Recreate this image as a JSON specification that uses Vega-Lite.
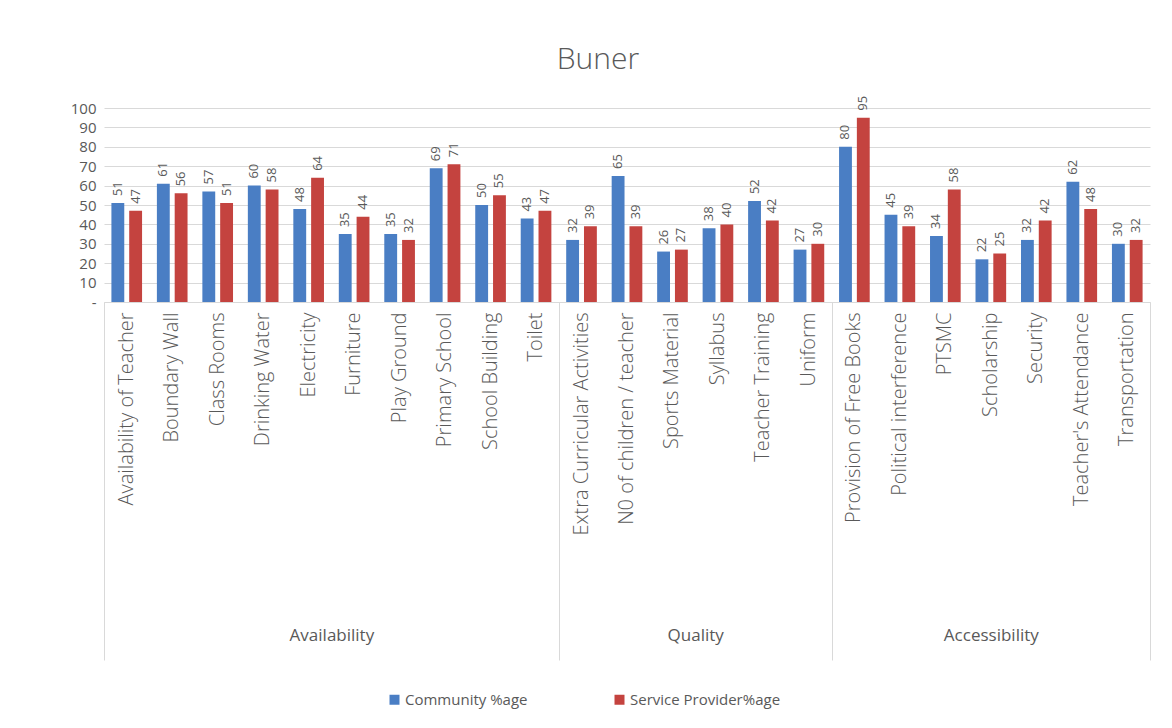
{
  "$schema": "https://vega.github.io/schema/vega-lite/v6.json",
  "autosize": {"type": "none"},
  "width": 1046,
  "height": 194,
  "padding": {"left": 104, "top": 108, "right": 22, "bottom": 426},
  "background": "white",
  "title": {
    "text": "Buner",
    "anchor": "middle",
    "dx": -29,
    "offset": 21,
    "font": "Open Sans",
    "fontSize": 30,
    "fontWeight": 300,
    "color": "#595959"
  },
  "datasets": {
    "scores": [
      {"indicator": "Availability of Teacher", "group": "Availability", "series": "Community %age", "value": 51},
      {"indicator": "Availability of Teacher", "group": "Availability", "series": "Service Provider%age", "value": 47},
      {"indicator": "Boundary Wall", "group": "Availability", "series": "Community %age", "value": 61},
      {"indicator": "Boundary Wall", "group": "Availability", "series": "Service Provider%age", "value": 56},
      {"indicator": "Class Rooms", "group": "Availability", "series": "Community %age", "value": 57},
      {"indicator": "Class Rooms", "group": "Availability", "series": "Service Provider%age", "value": 51},
      {"indicator": "Drinking Water", "group": "Availability", "series": "Community %age", "value": 60},
      {"indicator": "Drinking Water", "group": "Availability", "series": "Service Provider%age", "value": 58},
      {"indicator": "Electricity", "group": "Availability", "series": "Community %age", "value": 48},
      {"indicator": "Electricity", "group": "Availability", "series": "Service Provider%age", "value": 64},
      {"indicator": "Furniture", "group": "Availability", "series": "Community %age", "value": 35},
      {"indicator": "Furniture", "group": "Availability", "series": "Service Provider%age", "value": 44},
      {"indicator": "Play Ground", "group": "Availability", "series": "Community %age", "value": 35},
      {"indicator": "Play Ground", "group": "Availability", "series": "Service Provider%age", "value": 32},
      {"indicator": "Primary School", "group": "Availability", "series": "Community %age", "value": 69},
      {"indicator": "Primary School", "group": "Availability", "series": "Service Provider%age", "value": 71},
      {"indicator": "School Building", "group": "Availability", "series": "Community %age", "value": 50},
      {"indicator": "School Building", "group": "Availability", "series": "Service Provider%age", "value": 55},
      {"indicator": "Toilet", "group": "Availability", "series": "Community %age", "value": 43},
      {"indicator": "Toilet", "group": "Availability", "series": "Service Provider%age", "value": 47},
      {"indicator": "Extra Curricular Activities", "group": "Quality", "series": "Community %age", "value": 32},
      {"indicator": "Extra Curricular Activities", "group": "Quality", "series": "Service Provider%age", "value": 39},
      {"indicator": "N0 of children / teacher", "group": "Quality", "series": "Community %age", "value": 65},
      {"indicator": "N0 of children / teacher", "group": "Quality", "series": "Service Provider%age", "value": 39},
      {"indicator": "Sports Material", "group": "Quality", "series": "Community %age", "value": 26},
      {"indicator": "Sports Material", "group": "Quality", "series": "Service Provider%age", "value": 27},
      {"indicator": "Syllabus", "group": "Quality", "series": "Community %age", "value": 38},
      {"indicator": "Syllabus", "group": "Quality", "series": "Service Provider%age", "value": 40},
      {"indicator": "Teacher Training", "group": "Quality", "series": "Community %age", "value": 52},
      {"indicator": "Teacher Training", "group": "Quality", "series": "Service Provider%age", "value": 42},
      {"indicator": "Uniform", "group": "Quality", "series": "Community %age", "value": 27},
      {"indicator": "Uniform", "group": "Quality", "series": "Service Provider%age", "value": 30},
      {"indicator": "Provision of Free Books", "group": "Accessibility", "series": "Community %age", "value": 80},
      {"indicator": "Provision of Free Books", "group": "Accessibility", "series": "Service Provider%age", "value": 95},
      {"indicator": "Political interference", "group": "Accessibility", "series": "Community %age", "value": 45},
      {"indicator": "Political interference", "group": "Accessibility", "series": "Service Provider%age", "value": 39},
      {"indicator": "PTSMC", "group": "Accessibility", "series": "Community %age", "value": 34},
      {"indicator": "PTSMC", "group": "Accessibility", "series": "Service Provider%age", "value": 58},
      {"indicator": "Scholarship", "group": "Accessibility", "series": "Community %age", "value": 22},
      {"indicator": "Scholarship", "group": "Accessibility", "series": "Service Provider%age", "value": 25},
      {"indicator": "Security", "group": "Accessibility", "series": "Community %age", "value": 32},
      {"indicator": "Security", "group": "Accessibility", "series": "Service Provider%age", "value": 42},
      {"indicator": "Teacher's Attendance", "group": "Accessibility", "series": "Community %age", "value": 62},
      {"indicator": "Teacher's Attendance", "group": "Accessibility", "series": "Service Provider%age", "value": 48},
      {"indicator": "Transportation", "group": "Accessibility", "series": "Community %age", "value": 30},
      {"indicator": "Transportation", "group": "Accessibility", "series": "Service Provider%age", "value": 32}
    ],
    "groups": [
      {"group": "Availability", "start": 0, "end": 10},
      {"group": "Quality", "start": 10, "end": 16},
      {"group": "Accessibility", "start": 16, "end": 23}
    ]
  },
  "layer": [
    {
      "data": {"name": "scores"},
      "encoding": {
        "x": {
          "field": "indicator",
          "type": "nominal",
          "sort": null,
          "scale": {"paddingInner": 0.326, "paddingOuter": 0.163},
          "axis": {
            "title": null,
            "orient": "bottom",
            "labelAngle": -90,
            "labelAlign": "right",
            "labelBaseline": "middle",
            "labelPadding": 10,
            "labelFont": "Open Sans",
            "labelFontSize": 20,
            "labelFontWeight": 300,
            "labelColor": "#595959",
            "labelLimit": 0,
            "ticks": false,
            "domain": true,
            "domainColor": "#d9d9d9",
            "grid": false
          }
        },
        "xOffset": {"field": "series", "type": "nominal", "scale": {"paddingInner": 0.278}},
        "y": {
          "field": "value",
          "type": "quantitative",
          "scale": {"domain": [0, 100]},
          "axis": {
            "title": null,
            "values": [0, 10, 20, 30, 40, 50, 60, 70, 80, 90, 100],
            "labelExpr": "datum.value === 0 ? '-' : datum.label",
            "labelFont": "Open Sans",
            "labelFontSize": 15,
            "labelColor": "#595959",
            "labelPadding": 8,
            "domain": false,
            "ticks": false,
            "gridColor": "#d9d9d9"
          }
        }
      },
      "layer": [
        {
          "mark": {"type": "bar"},
          "encoding": {
            "color": {
              "field": "series",
              "type": "nominal",
              "scale": {"domain": ["Community %age", "Service Provider%age"], "range": ["#4A7EC4", "#C4433F"]},
              "legend": {
                "title": null,
                "orient": "none",
                "direction": "horizontal",
                "legendX": 283,
                "legendY": 584,
                "symbolType": "square",
                "symbolSize": 100,
                "symbolStrokeWidth": 0,
                "labelOffset": 3,
                "labelFont": "Open Sans",
                "labelFontSize": 15,
                "labelColor": "#595959",
                "columnPadding": 84
              }
            }
          }
        },
        {
          "mark": {
            "type": "text",
            "angle": 270,
            "align": "left",
            "baseline": "middle",
            "dx": 7,
            "font": "Open Sans",
            "fontSize": 13,
            "color": "#595959"
          },
          "encoding": {"text": {"field": "value", "type": "quantitative"}}
        }
      ]
    },
    {
      "data": {"name": "groups"},
      "mark": {"type": "rect", "opacity": 0},
      "encoding": {
        "x": {
          "field": "start",
          "type": "quantitative",
          "scale": {"domain": [0, 23], "nice": false, "zero": false},
          "axis": {
            "title": null,
            "orient": "bottom",
            "values": [0, 5, 10, 13, 16, 19.5, 23],
            "labelExpr": "datum.value === 5 ? 'Availability' : datum.value === 13 ? 'Quality' : datum.value === 19.5 ? 'Accessibility' : ''",
            "labelFont": "Open Sans",
            "labelFontSize": 17,
            "labelColor": "#595959",
            "labelPadding": -33,
            "labelOverlap": false,
            "labelFlush": false,
            "labelBound": false,
            "domain": false,
            "grid": false,
            "ticks": true,
            "tickSize": 358,
            "tickColor": "#d9d9d9",
            "tickOpacity": {"condition": {"test": "indexof([0, 10, 16, 23], datum.value) < 0", "value": 0}, "value": 1}
          }
        },
        "x2": {"field": "end"}
      }
    }
  ],
  "resolve": {"scale": {"x": "independent"}, "axis": {"x": "independent"}},
  "config": {
    "view": {"stroke": null}
  }
}
